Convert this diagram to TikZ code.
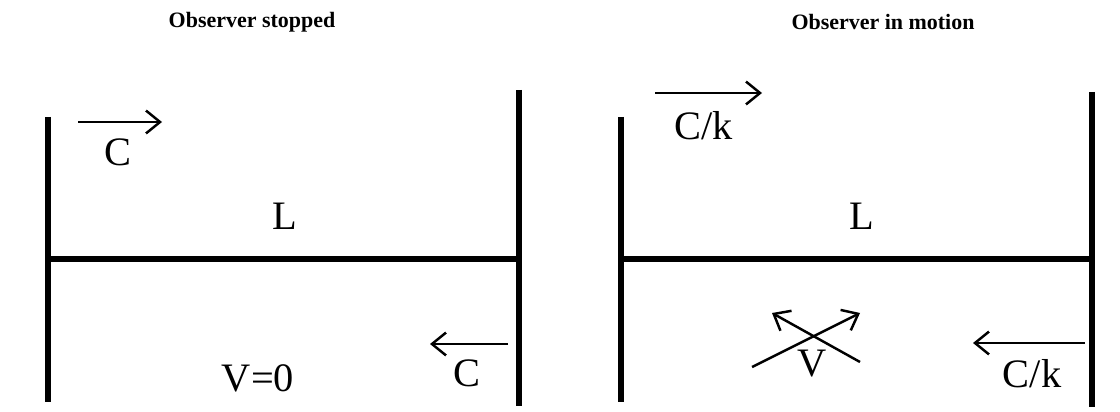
\documentclass[tikz,border=0pt]{standalone}
\usepackage{fontspec}
\setmainfont{Liberation Serif}
\usepackage{tikz}
\usetikzlibrary{arrows.meta}

\begin{document}
\begin{tikzpicture}[x=0.02cm, y=-0.02cm, >={Straight Barb[length=8pt, width=13pt]},
    bar/.style={line width=3pt},
    ray/.style={->, line width=1.4pt},
    lbl/.style={font=\fontsize{23}{25}\selectfont, inner sep=0pt},
    ttl/.style={font=\fontsize{12.5}{14}\selectfont\bfseries}]
  \useasboundingbox (0,0) rectangle (1120,412);
  % --- Panel 1: Observer stopped ---
  \node[ttl] (ttlA) at (252,22) {Observer stopped};
  \coordinate (aTL) at (48,117);  \coordinate (aBL) at (48,402);
  \coordinate (aTR) at (519,90);  \coordinate (aBR) at (519,406);
  \coordinate (aML) at (48,259);  \coordinate (aMR) at (519,259);
  \draw[bar] (aTL) -- (aBL);
  \draw[bar] (aTR) -- (aBR);
  \draw[bar] (aML) -- (aMR);
  \node[lbl] (lenA) at (285,216) {L};
  \coordinate (cA1) at (78,122);  \coordinate (cA2) at (162,122);
  \draw[ray] (cA1) -- (cA2);
  \node[lbl] (cTopA) at (118,152) {C};
  \coordinate (cA3) at (508,344); \coordinate (cA4) at (430,344);
  \draw[ray] (cA3) -- (cA4);
  \node[lbl] (cBotA) at (467,373) {C};
  \node[lbl] (velA) at (258,378) {V=0};
  % --- Panel 2: Observer in motion ---
  \node[ttl] (ttlB) at (883,22) {Observer in motion};
  \coordinate (bTL) at (621,117); \coordinate (bBL) at (621,402);
  \coordinate (bTR) at (1092,92); \coordinate (bBR) at (1092,407);
  \coordinate (bML) at (621,259); \coordinate (bMR) at (1092,259);
  \draw[bar] (bTL) -- (bBL);
  \draw[bar] (bTR) -- (bBR);
  \draw[bar] (bML) -- (bMR);
  \node[lbl] (lenB) at (862,216) {L};
  \coordinate (cB1) at (655,93);  \coordinate (cB2) at (762,93);
  \draw[ray] (cB1) -- (cB2);
  \node[lbl] (cTopB) at (704,126) {C/k};
  \coordinate (cB3) at (1085,343); \coordinate (cB4) at (973,343);
  \draw[ray] (cB3) -- (cB4);
  \node[lbl] (cBotB) at (1032,374) {C/k};
  % crossed velocity arrows
  \coordinate (vA1) at (752,367); \coordinate (vA2) at (860,313);
  \coordinate (vB1) at (860,362); \coordinate (vB2) at (772,313);
  \draw[ray] (vA1) -- (vA2);
  \draw[ray] (vB1) -- (vB2);
  \node[lbl] (velB) at (812,364) {V};
\end{tikzpicture}
\end{document}
